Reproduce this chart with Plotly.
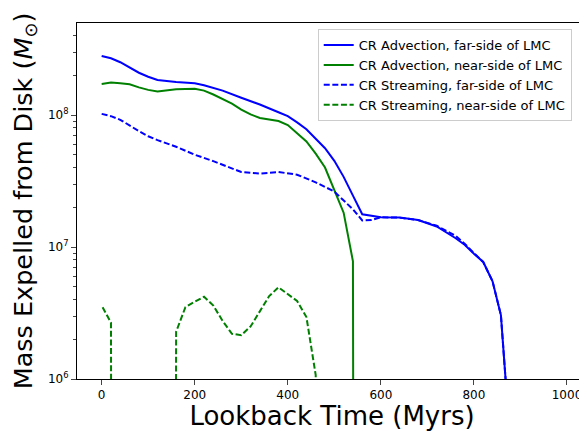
import numpy as np
import plotly.graph_objects as go

# Far-side, CR advection
t_adv_far = [0, 20, 40, 60, 80, 100, 120, 160, 200, 220, 260, 300, 340, 380, 400, 420, 440,
             460, 480, 500, 520, 540, 560, 600, 640, 680, 720, 760, 780, 800, 820, 840, 858, 870, 880]
m_adv_far = [2.80e8, 2.69e8, 2.51e8, 2.29e8, 2.09e8, 1.95e8, 1.84e8, 1.78e8, 1.74e8, 1.68e8,
             1.53e8, 1.35e8, 1.20e8, 1.05e8, 9.8e7, 8.8e7, 7.8e7, 6.6e7, 5.6e7, 4.5e7, 3.4e7,
             2.45e7, 1.77e7, 1.68e7, 1.67e7, 1.60e7, 1.43e7, 1.17e7, 1.04e7, 8.9e6, 7.7e6,
             5.5e6, 3.05e6, 8.0e5, 0]

# Near-side, CR advection
t_adv_near = [0, 20, 40, 60, 80, 100, 120, 160, 200, 220, 240, 260, 280, 300, 320, 340, 380,
              400, 420, 440, 460, 480, 500, 520, 540, 560]
m_adv_near = [1.72e8, 1.76e8, 1.74e8, 1.71e8, 1.62e8, 1.55e8, 1.51e8, 1.57e8, 1.58e8, 1.53e8,
              1.43e8, 1.33e8, 1.22e8, 1.10e8, 1.01e8, 9.5e7, 9.0e7, 8.4e7, 7.3e7, 6.3e7, 5.1e7,
              4.0e7, 2.7e7, 1.82e7, 7.8e6, 0]

# Far-side, CR streaming
t_str_far = [0, 20, 40, 60, 80, 100, 120, 160, 200, 240, 280, 300, 340, 380, 420, 460, 500,
             520, 540, 560, 580, 600, 640, 680, 720, 760, 780, 800, 820, 840, 858, 870, 880]
m_str_far = [1.02e8, 9.8e7, 9.2e7, 8.3e7, 7.55e7, 6.9e7, 6.45e7, 5.75e7, 5.0e7, 4.47e7, 3.94e7,
             3.7e7, 3.6e7, 3.7e7, 3.53e7, 3.09e7, 2.63e7, 2.24e7, 1.93e7, 1.59e7, 1.60e7,
             1.68e7, 1.67e7, 1.60e7, 1.45e7, 1.22e7, 1.06e7, 9.0e6, 7.7e6, 5.5e6, 3.05e6,
             8.0e5, 0]

# Near-side, CR streaming
t_str_near = [2, 20, 40, 60, 80, 100, 120, 140, 160, 180, 200, 220, 240, 260, 280, 300, 320,
              340, 360, 380, 400, 420, 440, 460, 480]
m_str_near = [3.5e6, 2.67e6, 0, 0, 0, 0, 0, 0, 2.28e6, 3.5e6, 3.85e6, 4.2e6, 3.6e6, 2.75e6,
              2.2e6, 2.15e6, 2.5e6, 3.3e6, 4.25e6, 4.95e6, 4.4e6, 3.9e6, 2.95e6, 1.07e6, 0]

series_names = ["CR Advection, far-side of LMC", "CR Advection, near-side of LMC",
                "CR Streaming, far-side of LMC", "CR Streaming, near-side of LMC"]

x_ticks = [0, 200, 400, 600, 800, 1000]
y_major = [1e6, 1e7, 1e8]
y_major_text = ["10<sup>6</sup>", "10<sup>7</sup>", "10<sup>8</sup>"]
y_minor = [k * 10 ** e for e in (6, 7, 8) for k in range(2, 10)]

BLUE = "#0000ff"
GREEN = "#008000"
DASH = "6px,2.6px"


def clip(m):
    m = np.asarray(m, dtype=float)
    return np.where(m > 0, m, 1e-30)  # non-positive values clipped like a log axis does


fig = go.Figure()
specs = [
    (t_adv_far, m_adv_far, BLUE, "solid"),
    (t_adv_near, m_adv_near, GREEN, "solid"),
    (t_str_far, m_str_far, BLUE, DASH),
    (t_str_near, m_str_near, GREEN, DASH),
]
for name, (t, m, c, d) in zip(series_names, specs):
    fig.add_trace(go.Scatter(x=t, y=clip(m), mode="lines", name=name,
                             line=dict(color=c, width=2, dash=d)))

# the page body has an 8px margin, so the figure is sized to end at the window edge
fig.update_layout(
    width=579, height=423,
    margin=dict(l=69, r=0, t=15, b=52),
    paper_bgcolor="white", plot_bgcolor="white",
    font=dict(family="DejaVu Sans", color="black", size=12),
    showlegend=True,
    legend=dict(x=0.472, y=0.983, xanchor="left", yanchor="top",
                bgcolor="white", bordercolor="#cccccc", borderwidth=1,
                font=dict(size=13, family="DejaVu Sans"),
                tracegroupgap=0, itemwidth=30),
)
fig.update_xaxes(
    range=[-53, 1043], tickvals=x_ticks, ticks="outside", ticklen=5, tickwidth=1,
    showline=True, linecolor="black", linewidth=1, mirror=True, showgrid=False,
    zeroline=False, tickfont=dict(size=12), automargin=False,
    title=dict(text="Lookback Time (Myrs)", font=dict(size=26), standoff=5),
)
fig.update_yaxes(
    type="log", range=[6, 8.697], tickvals=y_major, ticktext=y_major_text,
    ticks="outside", ticklen=5, tickwidth=1,
    minor=dict(tickvals=y_minor, ticks="outside", ticklen=3, tickwidth=1, showgrid=False),
    showline=True, linecolor="black", linewidth=1, mirror=True, showgrid=False,
    zeroline=False, tickfont=dict(size=12), automargin=False,
    title=dict(text="Mass Expelled from Disk (<i>M</i><sub>⊙</sub>)", font=dict(size=25.5),
               standoff=8),
)

fig.write_html("out.html")
